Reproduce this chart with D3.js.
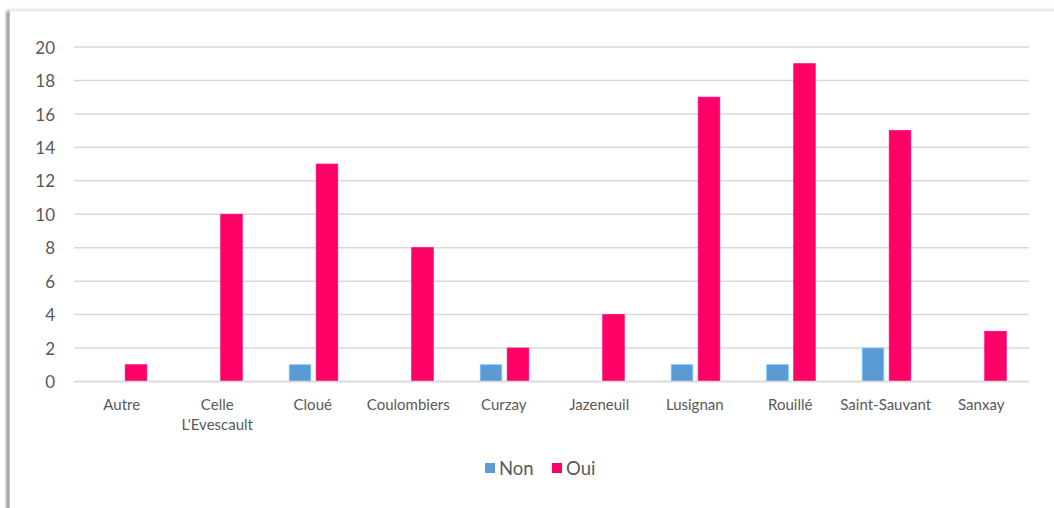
<!DOCTYPE html>
<html>
<head>
<meta charset="utf-8">
<script src="https://cdn.jsdelivr.net/npm/d3@7"></script>
<style>
  html, body { margin: 0; padding: 0; background: #fff; }
  svg { display: block; }
  text { font-family: Lato, "Open Sans", sans-serif; fill: #595959; }
</style>
</head>
<body>
<svg id="chart" width="1054" height="508"></svg>
<script>
// Réponses par commune
const categories = ["Autre", "Celle L'Evescault", "Cloué", "Coulombiers", "Curzay", "Jazeneuil", "Lusignan", "Rouillé", "Saint-Sauvant", "Sanxay"];
const seriesNames = ["Non", "Oui"];
const nonValues = [0, 0, 1, 0, 1, 0, 1, 1, 2, 0];
const ouiValues = [1, 10, 13, 8, 2, 4, 17, 19, 15, 3];
const yTicks = [0, 2, 4, 6, 8, 10, 12, 14, 16, 18, 20];
const colors = { Non: "#5B9BD5", Oui: "#FF0066" };

const svg = d3.select("#chart");
const W = 1054, H = 508;

// Panel with soft shadow on the left and top edges
const defs = svg.append("defs");
const f = defs.append("filter").attr("id", "soft")
  .attr("filterUnits", "userSpaceOnUse")
  .attr("x", 0).attr("y", 0).attr("width", W).attr("height", H);
f.append("feGaussianBlur").attr("stdDeviation", 1.3);
const shadow = svg.append("g").attr("filter", "url(#soft)");
shadow.append("rect").attr("x", 6).attr("y", 10).attr("width", 4).attr("height", H)
  .attr("fill", "#a0a0a0");
shadow.append("rect").attr("x", 6).attr("y", 9).attr("width", W).attr("height", 2.5)
  .attr("fill", "#e2e2e2");
svg.append("rect").attr("x", 10).attr("y", 11.5).attr("width", W - 10).attr("height", H - 11.5).attr("fill", "#fff");

const plot = { left: 74, right: 1029, top: 47, bottom: 381.5 };

const x = d3.scaleBand().domain(categories).range([plot.left, plot.right]).padding(0);
const y = d3.scaleLinear().domain([0, 20]).range([plot.bottom, plot.top]);

// Horizontal gridlines
svg.append("g").selectAll("line").data(yTicks).join("line")
  .attr("x1", plot.left).attr("x2", plot.right)
  .attr("y1", d => y(d)).attr("y2", d => y(d))
  .attr("stroke", "#d9d9d9").attr("stroke-width", 1.5);

// Y axis labels
const yAxis = d3.axisLeft(y).tickValues(yTicks).tickSize(0).tickPadding(0);
const gy = svg.append("g").attr("transform", `translate(55,0)`).call(yAxis);
gy.select(".domain").remove();
gy.selectAll("text").attr("font-size", 17).attr("fill", "#595959").attr("dy", "0.36em");

// Bars
const barW = 21.5;
const offsets = { Non: -23.5, Oui: 3.5 };
const rows = categories.map((c, i) => ({ c, Non: nonValues[i], Oui: ouiValues[i] }));
seriesNames.forEach(s => {
  svg.append("g").selectAll("rect").data(rows.filter(r => r[s] > 0)).join("rect")
    .attr("x", d => x(d.c) + x.bandwidth() / 2 + offsets[s])
    .attr("y", d => y(d[s]))
    .attr("width", barW)
    .attr("height", d => y(0) - y(d[s]))
    .attr("fill", colors[s])
    .attr("stroke", d3.color(colors[s]).brighter(0.6))
    .attr("stroke-width", 0.8);
});

// Baseline
svg.append("line").attr("x1", plot.left).attr("x2", plot.right)
  .attr("y1", y(0)).attr("y2", y(0)).attr("stroke", "#d9d9d9").attr("stroke-width", 1.5);

// X axis labels (wrapped)
const xLabels = svg.append("g");
categories.forEach(c => {
  const words = c === "Celle L'Evescault" ? ["Celle", "L'Evescault"] : [c];
  const t = xLabels.append("text")
    .attr("x", x(c) + x.bandwidth() / 2)
    .attr("y", 410)
    .attr("text-anchor", "middle")
    .attr("font-size", 15);
  words.forEach((w, i) => {
    t.append("tspan").attr("x", x(c) + x.bandwidth() / 2).attr("dy", i === 0 ? 0 : 19.5).text(w);
  });
});

// Legend
const legend = svg.append("g").attr("transform", "translate(485,468)");
const items = [{ name: "Non", x: 0 }, { name: "Oui", x: 67 }];
items.forEach(it => {
  legend.append("rect").attr("x", it.x).attr("y", -5).attr("width", 10).attr("height", 10).attr("fill", colors[it.name]);
  legend.append("text").attr("x", it.x + 14).attr("y", 0).attr("dy", "0.36em")
    .attr("font-size", 18.5).text(it.name);
});
</script>
</body>
</html>
